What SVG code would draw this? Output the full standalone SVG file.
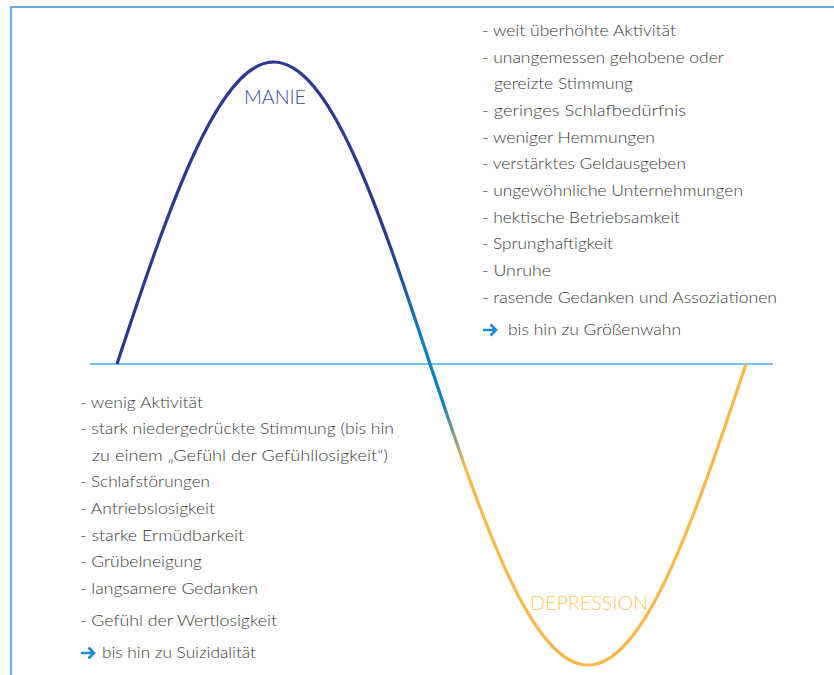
<svg xmlns="http://www.w3.org/2000/svg" width="834" height="675" viewBox="0 0 834 675">
<style>
.t{font-family:Lato,"Liberation Sans",sans-serif;font-weight:300;font-size:16px;fill:#3a3a3a}
.lbl{font-family:Lato,"Liberation Sans",sans-serif;font-weight:300;font-size:20px}
.arr{fill:none;stroke:#1a8ad4;stroke-width:2.6;stroke-linecap:butt}
</style>
<defs>
<linearGradient id="wave" gradientUnits="userSpaceOnUse" x1="0" y1="0" x2="834" y2="0">
<stop offset="0" stop-color="#2b3990"/>
<stop offset="0.465" stop-color="#2b3990"/>
<stop offset="0.505" stop-color="#0a7ec6"/>
<stop offset="0.53" stop-color="#0a7ec6"/>
<stop offset="0.558" stop-color="#fbb84a"/>
<stop offset="1" stop-color="#fbb84a"/>
</linearGradient>
<g id="arrow"><path class="arr" d="M0,0 H12 M7.5,-5.5 L13,0 L7.5,5.5"/></g>
</defs>
<g id="frame" fill="none" stroke="#3d8fd0" stroke-width="1.5">
<path d="M11,675 V7 H834"/>
</g>
<g id="connectors">
<line id="axis" x1="90" y1="364" x2="773" y2="364" stroke="#40aee6" stroke-width="1.5"/>
<path id="curve" d="M117,364 C168,209.3 217.9,62 273.5,62 C330.1,62 379,209.3 430,364 C481.5,518.2 530.8,665 588,665 C645.2,665 694.5,518.2 746,364" fill="none" stroke="url(#wave)" stroke-width="3.2"/>
</g>
<g id="manie"><text class="lbl" x="244" y="104" fill="#3b4a9c" textLength="62" lengthAdjust="spacingAndGlyphs">MANIE</text></g>
<g id="depression"><text class="lbl" x="530" y="610" fill="#f9c864" textLength="118" lengthAdjust="spacingAndGlyphs">DEPRESSION</text></g>
<g id="manie-list">
<text class="t" x="482" y="36" textLength="194" lengthAdjust="spacingAndGlyphs">- weit überhöhte Aktivität</text>
<text class="t" x="482" y="63" textLength="242" lengthAdjust="spacingAndGlyphs">- unangemessen gehobene oder</text>
<text class="t" x="494" y="89" textLength="139" lengthAdjust="spacingAndGlyphs">gereizte Stimmung</text>
<text class="t" x="482" y="116" textLength="204" lengthAdjust="spacingAndGlyphs">- geringes Schlafbedürfnis</text>
<text class="t" x="482" y="143" textLength="173" lengthAdjust="spacingAndGlyphs">- weniger Hemmungen</text>
<text class="t" x="482" y="169" textLength="204" lengthAdjust="spacingAndGlyphs">- verstärktes Geldausgeben</text>
<text class="t" x="482" y="196" textLength="261" lengthAdjust="spacingAndGlyphs">- ungewöhnliche Unternehmungen</text>
<text class="t" x="482" y="223" textLength="198" lengthAdjust="spacingAndGlyphs">- hektische Betriebsamkeit</text>
<text class="t" x="482" y="249" textLength="131" lengthAdjust="spacingAndGlyphs">- Sprunghaftigkeit</text>
<text class="t" x="482" y="276" textLength="69" lengthAdjust="spacingAndGlyphs">- Unruhe</text>
<text class="t" x="482" y="303" textLength="295" lengthAdjust="spacingAndGlyphs">- rasende Gedanken und Assoziationen</text>
<use href="#arrow" x="483" y="330"/>
<text class="t" x="508" y="335" textLength="173" lengthAdjust="spacingAndGlyphs">bis hin zu Größenwahn</text>
</g>
<g id="depression-list">
<text class="t" x="80" y="408" textLength="123" lengthAdjust="spacingAndGlyphs">- wenig Aktivität</text>
<text class="t" x="80" y="434" textLength="314" lengthAdjust="spacingAndGlyphs">- stark niedergedrückte Stimmung (bis hin</text>
<text class="t" x="92" y="461" textLength="296" lengthAdjust="spacingAndGlyphs">zu einem „Gefühl der Gefühllosigkeit“)</text>
<text class="t" x="80" y="487" textLength="130" lengthAdjust="spacingAndGlyphs">- Schlafstörungen</text>
<text class="t" x="80" y="514" textLength="135" lengthAdjust="spacingAndGlyphs">- Antriebslosigkeit</text>
<text class="t" x="80" y="541" textLength="164" lengthAdjust="spacingAndGlyphs">- starke Ermüdbarkeit</text>
<text class="t" x="80" y="567" textLength="122" lengthAdjust="spacingAndGlyphs">- Grübelneigung</text>
<text class="t" x="80" y="594" textLength="178" lengthAdjust="spacingAndGlyphs">- langsamere Gedanken</text>
<text class="t" x="80" y="626" textLength="197" lengthAdjust="spacingAndGlyphs">- Gefühl der Wertlosigkeit</text>
<use href="#arrow" x="81" y="653"/>
<text class="t" x="102" y="658" textLength="154" lengthAdjust="spacingAndGlyphs">bis hin zu Suizidalität</text>
</g>
</svg>
